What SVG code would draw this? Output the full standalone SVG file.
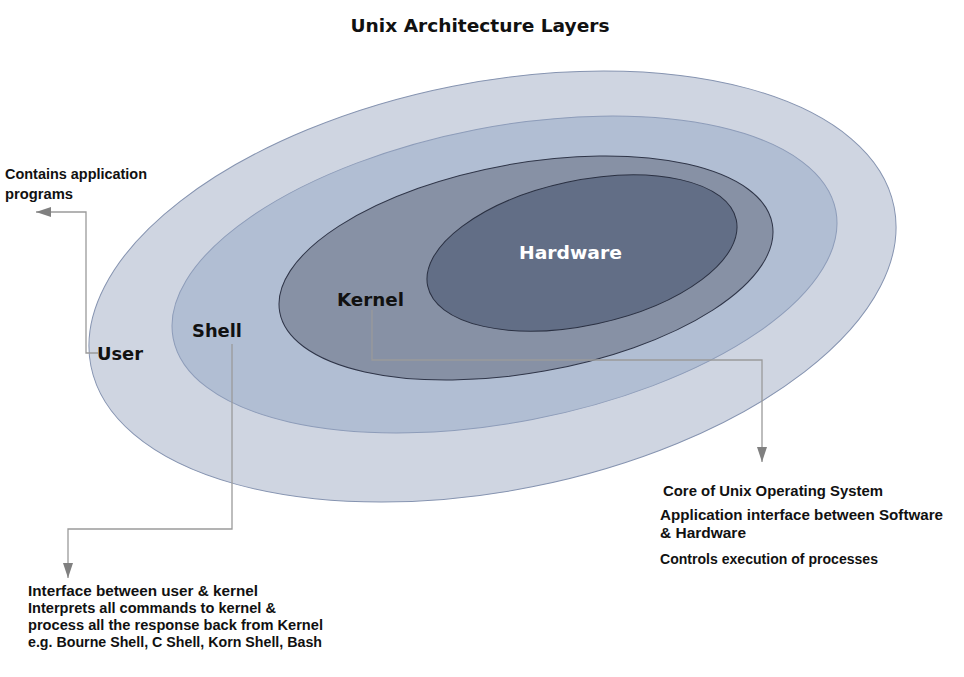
<svg xmlns="http://www.w3.org/2000/svg" width="964" height="677" viewBox="0 0 964 677">
<style>
.title{font-family:"DejaVu Sans",Verdana,sans-serif;font-weight:bold;font-size:17px;fill:#111}
.lbl{font-family:"DejaVu Sans",Verdana,sans-serif;font-weight:bold;font-size:18px;fill:#111}
.hw{fill:#ffffff}
.note{font-family:"Liberation Sans",Arial,sans-serif;font-size:15.5px;font-weight:bold;fill:#111}
.note.sm{font-size:14.5px}
.note.tight{font-size:14.5px}
.conn{fill:none;stroke:#9a9a9a;stroke-width:1.3}
</style>
<defs>
<marker id="arr" viewBox="0 0 15 10" refX="15" refY="5" markerWidth="15" markerHeight="10" markerUnits="userSpaceOnUse" orient="auto">
<path d="M0,0 L15,5 L0,10 z" fill="#808080"/>
</marker>
</defs>
<rect width="964" height="677" fill="#ffffff"/>
<text class="title" x="480" y="32" text-anchor="middle" textLength="259" lengthAdjust="spacingAndGlyphs">Unix Architecture Layers</text>

<g id="user">
<ellipse cx="492.5" cy="286.5" rx="409.4" ry="204.2" transform="rotate(-11.2 492.5 286.5)" fill="#cfd5e1" stroke="#8593b0" stroke-width="1"/>
</g>
<g id="shell">
<ellipse cx="504.5" cy="274.5" rx="337.4" ry="147.7" transform="rotate(-10.9 504.5 274.5)" fill="#b1bed3" stroke="#8d9cb9" stroke-width="1"/>
</g>
<g id="kernel">
<ellipse cx="526" cy="268" rx="250.2" ry="104.7" transform="rotate(-10.1 526 268)" fill="#8791a5" stroke="#2f3548" stroke-width="1"/>
</g>
<g id="hardware">
<ellipse cx="582" cy="253" rx="157.8" ry="72.3" transform="rotate(-12.1 582 253)" fill="#626e86" stroke="#2a3042" stroke-width="1"/>
<text class="lbl hw" x="519" y="259" textLength="103" lengthAdjust="spacingAndGlyphs">Hardware</text>
</g>

<g id="connectors">
<path class="conn" d="M98,353 H86 V212 H36" marker-end="url(#arr)"/>
<path class="conn" d="M232,344 V529 H68 V578" marker-end="url(#arr)"/>
<path class="conn" d="M372,310 V360 H762 V462" marker-end="url(#arr)" stroke="#8c8c8c"/>
</g>

<g id="labels">
<text class="lbl" x="337" y="306" textLength="67" lengthAdjust="spacingAndGlyphs">Kernel</text>
<text class="lbl" x="192" y="337" textLength="50" lengthAdjust="spacingAndGlyphs">Shell</text>
<text class="lbl" x="97" y="360" textLength="46" lengthAdjust="spacingAndGlyphs">User</text>
</g>

<g id="user-note">
<text class="note sm" x="5" y="179" textLength="142" lengthAdjust="spacingAndGlyphs">Contains application</text>
<text class="note sm" x="5" y="199" textLength="68" lengthAdjust="spacingAndGlyphs">programs</text>
</g>
<g id="kernel-note">
<text class="note" x="663" y="496" textLength="220" lengthAdjust="spacingAndGlyphs">Core of Unix Operating System</text>
<text class="note" x="660" y="520" textLength="283" lengthAdjust="spacingAndGlyphs">Application interface between Software</text>
<text class="note" x="660" y="538" textLength="86" lengthAdjust="spacingAndGlyphs">&amp; Hardware</text>
<text class="note" x="660" y="564" textLength="218" lengthAdjust="spacingAndGlyphs">Controls execution of processes</text>
</g>
<g id="shell-note">
<text class="note tight" x="28" y="596" textLength="230" lengthAdjust="spacingAndGlyphs">Interface between user &amp; kernel</text>
<text class="note tight" x="28" y="613" textLength="248" lengthAdjust="spacingAndGlyphs">Interprets all commands to kernel &amp;</text>
<text class="note tight" x="28" y="630" textLength="295" lengthAdjust="spacingAndGlyphs">process all the response back from Kernel</text>
<text class="note tight" x="28" y="647" textLength="294" lengthAdjust="spacingAndGlyphs">e.g. Bourne Shell, C Shell, Korn Shell, Bash</text>
</g>
</svg>
